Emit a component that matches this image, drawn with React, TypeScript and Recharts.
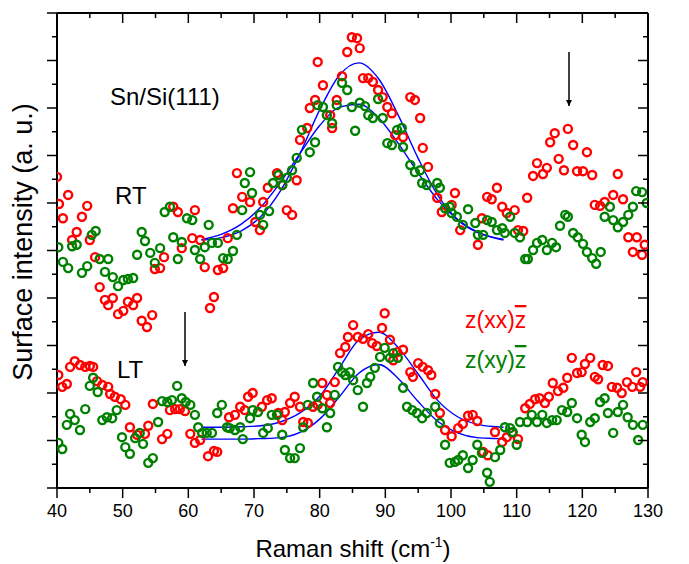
import { ComposedChart, Scatter, Line, XAxis, YAxis } from 'recharts'

// ─── Data ─────────────────────────────────────────────────────────────────────

// x = Raman shift (cm-1), y = surface intensity (arbitrary units, 0..10)
const rtXX: [number, number][] = [
  [40.0, 6.55], [40.3, 5.98], [40.9, 5.68], [41.7, 6.17], [42.3, 5.22], [43.0, 5.39],
  [43.8, 5.71], [44.6, 5.94], [45.0, 5.22], [45.8, 4.86], [46.5, 4.23], [47.3, 3.96],
  [47.8, 3.85], [48.5, 4.0], [49.3, 3.66], [50.1, 3.73], [50.8, 3.92], [51.6, 3.85],
  [52.2, 4.0], [52.9, 3.52], [53.7, 3.39], [54.5, 3.64], [54.9, 4.61], [55.7, 4.63],
  [56.3, 4.86], [57.7, 5.92], [58.4, 5.81], [59.0, 5.05], [60.6, 5.26], [61.0, 5.85],
  [61.8, 5.22], [62.5, 4.65], [63.3, 3.79], [63.9, 4.02], [64.5, 4.59], [65.3, 4.63],
  [66.0, 5.26], [66.8, 5.89], [67.4, 6.63], [68.2, 6.13], [69.4, 6.02], [70.2, 5.6],
  [70.9, 5.43], [71.4, 6.02], [72.1, 6.32], [73.5, 6.63], [74.3, 6.38], [75.0, 5.85],
  [75.8, 5.75], [76.5, 6.48], [77.0, 7.33], [78.1, 7.58], [78.5, 8.0], [79.3, 8.17],
  [79.7, 8.97], [80.5, 8.48], [81.6, 7.85], [81.9, 7.58], [82.6, 8.17], [83.4, 8.67],
  [84.2, 9.18], [84.9, 9.49], [85.7, 9.47], [86.1, 9.26], [86.6, 8.63], [87.4, 8.63],
  [88.1, 8.55], [88.9, 8.38], [89.6, 8.23], [90.3, 8.02], [91.0, 7.89], [91.5, 7.43],
  [92.7, 7.39], [93.8, 8.23], [94.5, 8.17], [95.3, 7.79], [95.7, 7.16], [96.5, 6.76],
  [97.9, 6.11], [98.6, 5.81], [100.1, 5.96], [100.6, 6.21], [101.4, 5.43], [104.1, 5.12],
  [104.7, 5.68], [105.5, 6.13], [106.2, 6.08], [107.0, 6.32], [107.8, 5.92], [108.5, 5.79],
  [109.7, 5.85], [110.2, 5.43], [111.0, 5.41], [111.6, 6.11], [112.5, 6.57], [113.1, 6.84],
  [114.0, 6.61], [114.6, 6.74], [115.1, 7.28], [115.8, 7.47], [116.4, 6.93], [117.2, 6.69],
  [117.8, 7.56], [118.6, 7.22], [119.2, 6.67], [120.1, 6.67], [120.7, 7.07], [121.5, 6.59],
  [121.9, 5.96], [122.7, 5.94], [123.4, 6.02], [124.7, 6.17], [125.4, 6.61], [126.2, 6.08],
  [127.0, 5.28], [127.7, 4.97], [128.3, 5.28], [129.1, 4.91], [129.5, 5.12],
]

const rtXY: [number, number][] = [
  [40.2, 5.07], [40.9, 4.76], [41.7, 4.63], [42.3, 5.09], [43.0, 5.12], [43.8, 4.53],
  [44.6, 4.67], [45.3, 5.33], [45.9, 5.41], [46.5, 4.82], [47.3, 4.55], [47.8, 4.82],
  [48.5, 4.44], [49.3, 4.25], [50.1, 4.38], [50.8, 4.4], [51.6, 4.42], [52.2, 4.91],
  [52.9, 5.39], [53.4, 5.2], [54.2, 4.95], [54.9, 4.74], [55.7, 5.05], [56.4, 5.81],
  [57.2, 5.92], [57.7, 5.28], [58.4, 4.82], [59.0, 5.18], [59.8, 5.68], [60.6, 5.64],
  [61.0, 5.01], [61.8, 4.82], [62.5, 5.07], [63.1, 5.54], [63.6, 5.16], [64.5, 5.16],
  [65.3, 4.84], [66.0, 4.82], [66.8, 4.99], [67.4, 5.33], [68.2, 5.85], [68.6, 6.42],
  [69.4, 6.65], [69.7, 6.21], [70.9, 5.75], [71.4, 5.54], [72.3, 5.83], [72.9, 6.42],
  [73.7, 6.59], [74.3, 6.38], [75.0, 6.53], [75.8, 6.69], [76.5, 6.95], [77.3, 7.54],
  [78.5, 7.07], [79.3, 7.28], [79.7, 8.06], [80.5, 8.02], [81.1, 7.85], [81.9, 7.68],
  [82.6, 8.06], [83.4, 8.53], [84.2, 8.38], [84.9, 8.02], [85.4, 7.52], [86.1, 8.11],
  [86.9, 8.04], [87.4, 7.85], [88.1, 7.79], [88.9, 8.19], [89.6, 7.79], [90.3, 7.26],
  [91.0, 7.22], [91.8, 7.54], [92.5, 7.58], [92.7, 7.18], [93.8, 6.8], [94.5, 6.65],
  [95.3, 6.69], [95.6, 6.42], [96.3, 6.38], [97.9, 6.42], [98.3, 6.32], [99.1, 5.89],
  [99.8, 5.92], [100.1, 5.79], [100.9, 5.71], [101.8, 5.54], [102.6, 5.87], [103.7, 5.58],
  [104.1, 5.33], [104.9, 5.33], [105.5, 5.64], [106.2, 5.6], [107.0, 5.43], [107.8, 5.47],
  [108.2, 5.37], [109.0, 5.71], [109.7, 5.37], [110.5, 5.28], [111.3, 4.82], [111.7, 4.82],
  [112.5, 5.01], [113.1, 5.16], [113.9, 5.22], [114.6, 5.01], [115.4, 5.16], [116.0, 5.07],
  [116.6, 5.52], [117.4, 5.75], [117.8, 5.71], [118.6, 5.37], [119.3, 5.28], [120.1, 5.14],
  [120.7, 4.97], [121.5, 4.84], [122.1, 4.72], [122.8, 4.97], [123.4, 5.71], [124.2, 5.92],
  [124.7, 5.64], [125.4, 5.49], [126.2, 5.6], [127.0, 5.75], [127.7, 5.92], [128.2, 6.25],
  [129.1, 6.23], [129.8, 6.0],
]

const ltXX: [number, number][] = [
  [40.2, 2.38], [40.8, 2.13], [41.5, 2.19], [42.0, 2.55], [42.7, 2.67], [43.5, 2.59],
  [44.3, 2.55], [45.0, 2.57], [45.5, 2.55], [46.1, 2.25], [46.9, 2.17], [47.8, 2.13],
  [48.1, 1.98], [48.8, 1.92], [49.7, 1.87], [50.4, 1.75], [51.1, 1.28], [52.2, 1.12],
  [53.4, 1.14], [53.9, 1.31], [54.6, 1.77], [56.0, 1.03], [56.8, 1.14], [57.2, 1.64],
  [58.0, 1.66], [58.7, 1.66], [59.5, 1.62], [60.3, 1.14], [61.0, 0.95], [61.8, 1.01],
  [63.0, 0.67], [63.9, 0.78], [64.4, 0.76], [66.2, 1.49], [67.1, 1.54], [67.9, 1.71],
  [68.6, 1.64], [69.1, 1.92], [69.8, 2.0], [71.2, 1.71], [72.0, 1.85], [72.7, 1.89],
  [73.7, 1.58], [74.3, 1.43], [74.7, 1.6], [75.5, 1.79], [76.2, 1.92], [77.0, 1.71],
  [77.5, 1.39], [78.2, 1.37], [79.0, 1.71], [79.7, 1.75], [80.4, 2.21], [81.1, 1.96],
  [81.6, 1.79], [82.3, 2.23], [83.1, 2.84], [83.9, 2.97], [84.3, 3.18], [85.1, 3.43],
  [85.8, 3.18], [86.6, 3.14], [87.4, 3.24], [88.0, 3.05], [88.7, 2.99], [89.5, 3.37],
  [89.9, 3.68], [90.7, 3.12], [91.2, 2.69], [91.8, 2.86], [92.7, 2.91], [93.8, 2.44],
  [94.2, 2.34], [95.0, 2.63], [95.7, 2.55], [96.5, 2.48], [97.0, 2.38], [97.6, 1.98],
  [98.3, 1.58], [99.1, 1.22], [100.1, 1.09], [101.1, 1.26], [101.8, 1.35], [102.6, 1.52],
  [103.3, 1.54], [104.0, 1.41], [104.9, 0.76], [105.6, 0.69], [106.7, 1.18], [107.8, 0.97],
  [108.5, 1.07], [109.3, 1.16], [110.2, 1.03], [111.3, 1.68], [112.0, 1.77], [112.8, 1.87],
  [113.5, 1.89], [114.3, 1.79], [114.9, 1.92], [115.5, 2.21], [116.3, 2.04], [117.1, 2.11],
  [117.7, 2.32], [118.4, 2.74], [119.2, 2.42], [119.9, 2.44], [120.4, 2.61], [121.2, 2.74],
  [121.9, 2.34], [122.4, 2.29], [123.1, 2.59], [123.9, 2.57], [124.5, 2.13], [125.3, 2.11],
  [126.0, 2.0], [126.8, 2.23], [127.6, 2.13], [128.2, 2.44], [128.8, 2.13], [129.2, 2.23],
]

const ltXY: [number, number][] = [
  [40.2, 0.95], [40.8, 0.82], [41.5, 1.33], [42.0, 1.56], [42.7, 1.43], [43.5, 1.22],
  [44.3, 1.66], [45.0, 2.15], [45.5, 2.32], [46.2, 2.02], [46.9, 1.43], [47.6, 1.49],
  [48.4, 1.47], [49.1, 1.64], [49.9, 1.07], [50.4, 0.86], [51.1, 0.72], [51.9, 1.05],
  [52.6, 1.16], [53.1, 0.93], [53.9, 0.53], [54.6, 0.63], [55.4, 1.39], [56.0, 1.83],
  [56.8, 1.81], [57.5, 1.85], [58.3, 2.15], [59.0, 1.89], [59.6, 1.81], [60.3, 1.75],
  [61.0, 1.54], [61.5, 1.28], [62.1, 1.16], [62.8, 1.16], [63.6, 1.16], [64.4, 1.58],
  [65.1, 1.75], [65.9, 1.28], [66.3, 1.26], [67.1, 1.22], [67.9, 1.28], [68.3, 1.03],
  [69.4, 1.47], [69.8, 1.64], [70.6, 1.6], [71.4, 1.16], [72.1, 1.26], [72.7, 1.54],
  [73.5, 1.54], [74.3, 1.12], [74.7, 0.8], [75.5, 0.63], [76.2, 0.63], [77.0, 0.84],
  [77.5, 1.28], [78.2, 1.75], [79.0, 2.21], [79.6, 1.92], [80.4, 1.68], [81.1, 1.28],
  [81.6, 1.58], [82.3, 1.96], [82.8, 2.55], [83.4, 2.44], [83.9, 2.38], [84.6, 2.44],
  [85.1, 2.27], [85.8, 2.06], [86.6, 1.71], [87.2, 2.21], [87.7, 2.34], [88.4, 2.53],
  [89.2, 2.76], [89.9, 2.95], [90.7, 2.74], [91.2, 2.84], [91.9, 2.74], [92.7, 2.11],
  [93.3, 1.71], [94.1, 1.64], [94.8, 1.58], [95.6, 1.47], [96.3, 1.58], [97.6, 1.71],
  [98.3, 1.37], [99.1, 0.91], [99.8, 0.53], [100.6, 0.55], [101.1, 0.59], [101.8, 0.69],
  [102.6, 0.42], [103.3, 0.59], [104.0, 0.91], [104.7, 0.74], [105.5, 0.32], [105.9, 0.13],
  [106.7, 0.65], [107.5, 0.8], [108.2, 1.28], [109.0, 1.26], [109.4, 1.18], [110.0, 0.91],
  [110.5, 1.39], [111.6, 1.39], [112.3, 1.54], [113.1, 1.39], [113.9, 1.54], [114.6, 1.37],
  [115.4, 1.43], [116.1, 1.43], [116.9, 1.64], [117.7, 1.6], [118.4, 1.79], [119.2, 1.47],
  [119.9, 1.12], [120.4, 0.97], [121.2, 1.39], [121.9, 1.47], [122.7, 1.81], [123.4, 1.89],
  [123.9, 1.58], [124.7, 1.16], [125.4, 1.6], [126.2, 1.75], [126.9, 1.49], [127.7, 1.33],
  [128.5, 1.01], [129.2, 1.33],
]

// fitted curves (blue)
const fitX = [62, 65, 68, 71, 74, 77, 80, 83, 86, 89, 92, 95, 98, 101, 104, 107, 108]
const fitRtXX = [5.22, 5.27, 5.41, 5.71, 6.25, 7.04, 7.96, 8.69, 8.95, 8.61, 7.84, 6.94, 6.16, 5.65, 5.38, 5.26, 5.24]
const fitRtXY = [5.23, 5.34, 5.55, 5.91, 6.43, 7.04, 7.63, 8.02, 8.08, 7.79, 7.25, 6.63, 6.06, 5.65, 5.39, 5.25, 5.22]
const fitLtXX = [1.28, 1.28, 1.29, 1.31, 1.39, 1.58, 1.93, 2.53, 3.12, 3.28, 2.95, 2.4, 1.84, 1.5, 1.34, 1.29, 1.28]
const fitLtXY = [1.03, 1.03, 1.03, 1.04, 1.06, 1.17, 1.45, 1.92, 2.42, 2.6, 2.3, 1.82, 1.4, 1.16, 1.06, 1.04, 1.03]

const xTicks = [40, 45, 50, 55, 60, 65, 70, 75, 80, 85, 90, 95, 100, 105, 110, 115, 120, 125, 130]
const yTicks = [0, 0.5, 1, 1.5, 2, 2.5, 3, 3.5, 4, 4.5, 5, 5.5, 6, 6.5, 7, 7.5, 8, 8.5, 9, 9.5, 10]

const RED = '#ff0000'
const GREEN = '#008000'
const BLUE = '#0000ff'
const FONT = '"Liberation Sans", Arial, sans-serif'

const toPoints = (pts: [number, number][]) => pts.map(([x, y]) => ({ x, y }))
const toFit = (ys: number[]) => fitX.map((x, i) => ({ x, y: ys[i] }))

// ─── Ticks ────────────────────────────────────────────────────────────────────

const isMajorX = (v: number) => v % 10 === 0
const isMajorY = (v: number) => Number.isInteger(v)

const BottomTick = (props: any) => {
  const { x, y, payload } = props
  const major = isMajorX(payload.value)
  return (
    <g>
      <line x1={x} x2={x} y1={y} y2={y + (major ? 10 : 5)} stroke="#000" strokeWidth={1.5} />
      {major && (
        <text x={x} y={y + 29} textAnchor="middle" fontSize={18} fontFamily={FONT} fill="#000">
          {payload.value}
        </text>
      )}
    </g>
  )
}

const TopTick = (props: any) => {
  const { x, y, payload } = props
  const major = isMajorX(payload.value)
  return <line x1={x} x2={x} y1={y} y2={y + (major ? 10 : 5)} stroke="#000" strokeWidth={1.5} />
}

const LeftTick = (props: any) => {
  const { x, y, payload } = props
  const major = isMajorY(payload.value)
  return <line x1={x} x2={x - (major ? 10 : 5)} y1={y} y2={y} stroke="#000" strokeWidth={1.5} />
}

const RightTick = (props: any) => {
  const { x, y, payload } = props
  const major = isMajorY(payload.value)
  return <line x1={x} x2={x - (major ? 10 : 5)} y1={y} y2={y} stroke="#000" strokeWidth={1.5} />
}

const ring = (color: string) => (p: any) =>
  <circle cx={p.cx} cy={p.cy} r={4} fill="none" stroke={color} strokeWidth={2.4} />

// ─── Component ────────────────────────────────────────────────────────────────

export default function App() {
  const axisLine = { stroke: '#000', strokeWidth: 2 }

  return (
    <div style={{ position: 'relative', width: 673, height: 556, background: '#fff' }}>
      <ComposedChart width={673} height={556} margin={{ top: 0, right: 0, bottom: 0, left: 0 }}>
        <XAxis
          xAxisId="b"
          type="number"
          dataKey="x"
          domain={[40, 130]}
          allowDataOverflow
          ticks={xTicks}
          interval={0}
          height={76}
          tickSize={0}
          tickMargin={0}
          tickLine={false}
          axisLine={axisLine}
          tick={<BottomTick />}
        />
        <XAxis
          xAxisId="t"
          orientation="top"
          type="number"
          dataKey="x"
          domain={[40, 130]}
          allowDataOverflow
          ticks={xTicks}
          interval={0}
          height={5}
          tickSize={0}
          tickMargin={0}
          tickLine={false}
          axisLine={axisLine}
          tick={<TopTick />}
        />
        <YAxis
          yAxisId="l"
          type="number"
          dataKey="y"
          domain={[0, 10]}
          allowDataOverflow
          ticks={yTicks}
          interval={0}
          width={49}
          tickSize={0}
          tickMargin={0}
          tickLine={false}
          axisLine={axisLine}
          tick={<LeftTick />}
        />
        <YAxis
          yAxisId="r"
          orientation="right"
          type="number"
          dataKey="y"
          domain={[0, 10]}
          allowDataOverflow
          ticks={yTicks}
          interval={0}
          width={33}
          tickSize={0}
          tickMargin={0}
          tickLine={false}
          axisLine={axisLine}
          tick={<RightTick />}
        />

        <Scatter xAxisId="b" yAxisId="l" data={toPoints(rtXX)} shape={ring(RED)} isAnimationActive={false} />
        <Scatter xAxisId="b" yAxisId="l" data={toPoints(rtXY)} shape={ring(GREEN)} isAnimationActive={false} />
        <Scatter xAxisId="b" yAxisId="l" data={toPoints(ltXX)} shape={ring(RED)} isAnimationActive={false} />
        <Scatter xAxisId="b" yAxisId="l" data={toPoints(ltXY)} shape={ring(GREEN)} isAnimationActive={false} />

        <Line xAxisId="b" yAxisId="l" data={toFit(fitRtXX)} dataKey="y" type="monotone" stroke={BLUE} strokeWidth={1.4} dot={false} isAnimationActive={false} />
        <Line xAxisId="b" yAxisId="l" data={toFit(fitRtXY)} dataKey="y" type="monotone" stroke={BLUE} strokeWidth={1.4} dot={false} isAnimationActive={false} />
        <Line xAxisId="b" yAxisId="l" data={toFit(fitLtXX)} dataKey="y" type="monotone" stroke={BLUE} strokeWidth={1.4} dot={false} isAnimationActive={false} />
        <Line xAxisId="b" yAxisId="l" data={toFit(fitLtXY)} dataKey="y" type="monotone" stroke={BLUE} strokeWidth={1.4} dot={false} isAnimationActive={false} />
      </ComposedChart>

      {/* annotations, axis titles */}
      <svg
        width={673}
        height={556}
        style={{ position: 'absolute', left: 0, top: 0, pointerEvents: 'none' }}
        fontFamily={FONT}
      >
        <defs>
          <marker id="head" viewBox="0 0 10 10" refX="10" refY="5" markerWidth="4" markerHeight="4" orient="auto">
            <path d="M0,0 L10,5 L0,10 z" fill="#000" />
          </marker>
        </defs>

        <text x={102} y={97} fontSize={24} fill="#000">Sn/Si(111)</text>
        <text x={107} y={196} fontSize={24} fill="#000">RT</text>
        <text x={109} y={370} fontSize={24} fill="#000">LT</text>

        <line x1={561} y1={44} x2={561} y2={98} stroke="#000" strokeWidth={1.5} markerEnd="url(#head)" />
        <line x1={177} y1={304} x2={177} y2={358} stroke="#000" strokeWidth={1.5} markerEnd="url(#head)" />

        <text x={457} y={320} fontSize={23} fill={RED}>
          z(xx)<tspan style={{ textDecoration: 'overline' }}>z</tspan>
        </text>
        <text x={457} y={360} fontSize={23} fill={GREEN}>
          z(xy)<tspan style={{ textDecoration: 'overline' }}>z</tspan>
        </text>

        <text
          x={0}
          y={0}
          transform="translate(24 234) rotate(-90)"
          textAnchor="middle"
          fontSize={27}
          fill="#000"
        >
          Surface intensity (a. u.)
        </text>
        <text x={345} y={549} textAnchor="middle" fontSize={24} fill="#000">
          Raman shift (cm<tspan fontSize={14} dy={-10}>-1</tspan><tspan dy={10}>)</tspan>
        </text>
      </svg>
    </div>
  )
}
